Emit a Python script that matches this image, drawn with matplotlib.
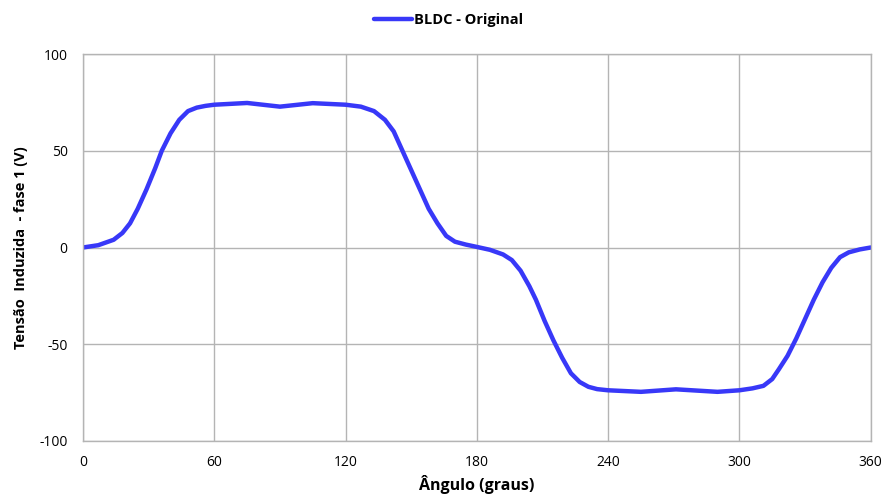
import matplotlib.pyplot as plt

# dados
angulo = [0, 7, 14, 18, 21.5, 25, 29, 33, 36, 40, 44, 48, 52, 56, 60, 75, 90, 105, 120,
          127, 133, 138, 142, 146, 150, 154, 158, 162, 166, 170, 175, 180, 186, 192, 196,
          200, 204, 207, 211, 215, 219, 223, 227, 231, 235, 240, 255, 271, 290, 300, 306,
          311, 315, 318, 322, 326, 330, 334, 338, 342, 346, 350, 355, 360]
tensao = [0, 1.2, 4, 7.5, 12.5, 20, 30, 41, 50, 59, 66, 70.5, 72.3, 73.2, 73.8, 74.7,
          72.8, 74.6, 73.8, 72.8, 70.5, 66, 60, 50, 40, 30, 20, 12.5, 6, 3, 1.5, 0.3,
          -1.2, -3.6, -6.5, -12, -20, -27, -38, -48, -57, -65, -69.5, -72, -73.2, -73.8,
          -74.6, -73.3, -74.6, -73.8, -72.8, -71.5, -68, -63, -56, -47, -37, -27, -18,
          -10.5, -5, -2.5, -1, 0]

xticks = [0, 60, 120, 180, 240, 300, 360]
yticks = [-100, -50, 0, 50, 100]

plt.rcParams['font.family'] = ['Open Sans', 'DejaVu Sans']
plt.rcParams['axes.unicode_minus'] = False

fig = plt.figure(figsize=(8.85, 5.03), dpi=100)
ax = fig.add_axes([0.0938, 0.1233, 0.890, 0.7693])

ax.plot(angulo, tensao, color='#3838F8', linewidth=3.2, label='BLDC - Original',
        solid_capstyle='round', solid_joinstyle='round')

ax.set_xlim(0, 360)
ax.set_ylim(-100, 100)
ax.set_xticks(xticks)
ax.set_yticks(yticks)
ax.tick_params(length=0, labelsize=10)
ax.tick_params(axis='y', pad=11)
ax.tick_params(axis='x', pad=10)
ax.grid(True, color='#b4b4b4', linewidth=1)
for s in ax.spines.values():
    s.set_color('#b4b4b4')
    s.set_linewidth(1)

ax.set_xlabel('Ângulo (graus)', fontsize=11.5, fontweight='bold', labelpad=4)
ax.set_ylabel('Tensão  Induzida  - fase 1 (V)', fontsize=10.5, fontweight='bold', labelpad=8)

fig.legend(loc='upper center', bbox_to_anchor=(0.507, 1.0), frameon=False,
           prop={'size': 10.5, 'weight': 'bold'}, handlelength=2.6, handletextpad=0.1)

fig.savefig('out.png', dpi=100)
